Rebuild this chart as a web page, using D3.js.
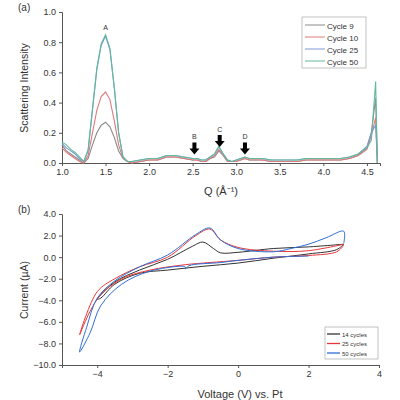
<!DOCTYPE html>
<html><head><meta charset="utf-8">
<script src="https://cdn.jsdelivr.net/npm/d3@7"></script>
<style>body{margin:0;background:#fff}text{font-family:"Liberation Sans",Arial,sans-serif;fill:#333}</style>
</head><body><svg id="c" width="400" height="400"></svg>
<script>
// SAXS data (panel a)
const qVals = [1.0,1.05,1.1,1.15,1.2,1.25,1.3,1.35,1.4,1.45,1.5,1.55,1.6,1.65,1.7,1.75,1.8,1.9,2.0,2.1,2.2,2.3,2.4,2.5,2.55,2.6,2.65,2.7,2.75,2.8,2.85,2.9,2.95,3.0,3.05,3.1,3.15,3.2,3.3,3.4,3.5,3.6,3.7,3.8,3.9,4.0,4.1,4.2,4.3,4.4,4.5,4.55,4.6,4.62];
const cycle9 = [0.12,0.08,0.06,0.04,0.02,0.0,0.03,0.12,0.2,0.25,0.27,0.24,0.17,0.08,0.03,0.01,0.0,0.01,0.02,0.02,0.04,0.04,0.03,0.02,0.02,0.01,0.01,0.03,0.04,0.08,0.05,0.01,0.01,0.01,0.02,0.03,0.02,0.02,0.02,0.01,0.01,0.01,0.01,0.02,0.02,0.02,0.02,0.02,0.03,0.05,0.1,0.2,0.43,0.0];
const cycle10 = [0.1,0.07,0.05,0.03,0.01,0.0,0.05,0.2,0.35,0.44,0.47,0.42,0.28,0.12,0.03,0.01,0.0,0.01,0.02,0.02,0.04,0.04,0.03,0.02,0.02,0.01,0.01,0.03,0.05,0.09,0.05,0.01,0.01,0.01,0.02,0.03,0.02,0.02,0.02,0.01,0.01,0.01,0.01,0.02,0.02,0.02,0.02,0.02,0.03,0.05,0.09,0.18,0.3,0.0];
const cycle25 = [0.13,0.1,0.08,0.06,0.03,0.01,0.08,0.35,0.62,0.78,0.84,0.75,0.5,0.2,0.04,0.01,0.01,0.02,0.03,0.03,0.05,0.05,0.04,0.03,0.03,0.02,0.02,0.04,0.06,0.11,0.06,0.02,0.01,0.02,0.03,0.04,0.03,0.03,0.03,0.02,0.02,0.02,0.02,0.03,0.03,0.03,0.03,0.03,0.04,0.06,0.11,0.2,0.25,0.0];
const cycle50 = [0.14,0.12,0.09,0.07,0.04,0.01,0.09,0.36,0.63,0.79,0.85,0.76,0.5,0.2,0.04,0.01,0.01,0.02,0.03,0.03,0.05,0.05,0.04,0.03,0.03,0.02,0.02,0.04,0.06,0.11,0.06,0.02,0.01,0.02,0.03,0.04,0.03,0.03,0.03,0.02,0.02,0.02,0.02,0.03,0.03,0.03,0.03,0.03,0.04,0.06,0.1,0.15,0.54,0.0];
const saxsNames = ['Cycle 9','Cycle 10','Cycle 25','Cycle 50'];
const saxsColors = ['#8a8a8a','#e07a7a','#7a9ad6','#62b99c'];
const peaks = [{l:'A',q:1.5,y:0.86,arrow:false},{l:'B',q:2.52,y:0.05,arrow:true},{l:'C',q:2.81,y:0.1,arrow:true},{l:'D',q:3.1,y:0.05,arrow:true}];

// CV data (panel b), [V, I]
const cv14 = [[3,1.2],[2,0.95],[1,0.8],[0,0.45],[-0.5,0.4],[-0.7,0.8],[-1.0,1.4],[-1.3,1.0],[-2,-0.2],[-2.8,-1.2],[-3.5,-2.3],[-4,-3.9],[-3.9,-3.8],[-3.5,-2.5],[-2.8,-1.5],[-2,-1.2],[-1,-0.85],[0,-0.55],[1,-0.1],[2,0.3],[2.8,0.7],[3,1.2]];
const cv25 = [[3,1.2],[2,0.6],[1,0.55],[0,0.9],[-0.5,1.6],[-0.8,2.6],[-1.2,2.0],[-2,0.0],[-2.8,-0.9],[-3.5,-2.0],[-4,-3.2],[-4.5,-7.2],[-4.2,-5.0],[-3.9,-3.5],[-3.3,-2.0],[-2.5,-1.2],[-1.5,-0.7],[-0.8,-0.5],[0,-0.3],[1,0.0],[2,0.15],[2.8,0.5],[3,1.1]];
const cv50 = [[3,1.3],[3,2.4],[2.5,1.8],[2,1.2],[1.5,0.8],[1,0.5],[0,0.8],[-0.5,1.6],[-0.8,2.7],[-1.2,2.1],[-2,0.2],[-2.8,-0.9],[-3.5,-2.2],[-4,-3.8],[-4.3,-6.5],[-4.5,-8.8],[-4.2,-7.0],[-3.9,-4.5],[-3.3,-2.5],[-2.5,-1.3],[-1.5,-0.9],[-1.5,-1.1],[-1.4,-0.8],[-0.5,-0.5],[0,-0.3],[1,0.0],[2,0.1]];
const cvNames = ['14 cycles','25 cycles','50 cycles'];
const cvColors = ['#333333','#e8383a','#2f6fd6'];

const svg = d3.select('#c');
const fmt1 = d => d.toFixed(1).replace('-', '\u2212');

// ---- panel a ----
const xa = d3.scaleLinear().domain([1.0, 4.65]).range([62, 380]);
const ya = d3.scaleLinear().domain([0, 1.0]).range([163, 12]);
const ga = svg.append('g');
ga.append('g').attr('transform', 'translate(0,163)')
  .call(d3.axisBottom(xa).tickValues(d3.range(1.0, 4.51, 0.5)).tickFormat(fmt1).tickSize(3));
ga.append('g').attr('transform', 'translate(62,0)')
  .call(d3.axisLeft(ya).ticks(5).tickFormat(fmt1).tickSize(3));
const lineA = d3.line().x((d, i) => xa(qVals[i])).y(d => ya(d));
[cycle9, cycle10, cycle25, cycle50].forEach((s, k) => {
  ga.append('path').attr('d', lineA(s)).attr('fill', 'none').attr('stroke', saxsColors[k]).attr('stroke-width', 1.1);
});
peaks.forEach(p => {
  const x = xa(p.q), y = ya(p.y);
  if (p.arrow) {
    ga.append('path').attr('d', `M${x-2},${y-13}h4v6h3l-5,6l-5,-6h3z`).attr('fill', '#000');
    ga.append('text').attr('x', x).attr('y', y - 16).attr('text-anchor', 'middle').attr('font-size', 7).text(p.l);
  } else {
    ga.append('text').attr('x', x).attr('y', y - 3).attr('text-anchor', 'middle').attr('font-size', 7).text(p.l);
  }
});
const la = ga.append('g');
la.append('rect').attr('x', 302).attr('y', 17).attr('width', 64).attr('height', 51).attr('fill', '#fff').attr('stroke', '#aaa').attr('stroke-width', 0.7);
saxsNames.forEach((n, i) => {
  const y = 25 + i * 12;
  la.append('line').attr('x1', 305).attr('x2', 325).attr('y1', y).attr('y2', y).attr('stroke', saxsColors[i]).attr('stroke-width', 1);
  la.append('text').attr('x', 327).attr('y', y + 3.5).attr('font-size', 8).text(n);
});
svg.append('text').attr('x', 18).attr('y', 11).attr('font-size', 10).text('(a)');
svg.append('text').attr('x', 221).attr('y', 195).attr('text-anchor', 'middle').attr('font-size', 11).text('Q (Å\u207B\u00B9)');
svg.append('text').attr('transform', 'translate(28,88) rotate(-90)').attr('text-anchor', 'middle').attr('font-size', 10.5).text('Scattering Intensity');

// ---- panel b ----
const xb = d3.scaleLinear().domain([-5, 4]).range([62, 379]);
const yb = d3.scaleLinear().domain([-10, 4]).range([365, 214]);
const gb = svg.append('g');
gb.append('g').attr('transform', 'translate(0,365)')
  .call(d3.axisBottom(xb).tickValues([-4, -2, 0, 2, 4]).tickFormat(d => String(d).replace('-', '\u2212')).tickSize(3));
gb.append('g').attr('transform', 'translate(62,0)')
  .call(d3.axisLeft(yb).tickValues(d3.range(-10, 4.1, 2)).tickFormat(fmt1).tickSize(3));
const lineB = d3.line().x(d => xb(d[0])).y(d => yb(d[1])).curve(d3.curveCatmullRom);
[cv14, cv25, cv50].forEach((s, k) => {
  gb.append('path').attr('d', lineB(s)).attr('fill', 'none').attr('stroke', cvColors[k]).attr('stroke-width', 1);
});
const lb = gb.append('g');
lb.append('rect').attr('x', 325).attr('y', 327).attr('width', 53).attr('height', 32).attr('fill', '#fff').attr('stroke', '#999').attr('stroke-width', 0.6);
cvNames.forEach((n, i) => {
  const y = 334 + i * 9.5;
  lb.append('line').attr('x1', 327).attr('x2', 340).attr('y1', y).attr('y2', y).attr('stroke', cvColors[i]).attr('stroke-width', 1.3);
  lb.append('text').attr('x', 342).attr('y', y + 2.5).attr('font-size', 6).text(n);
});
svg.append('text').attr('x', 18).attr('y', 213).attr('font-size', 10).text('(b)');
svg.append('text').attr('x', 240).attr('y', 398).attr('text-anchor', 'middle').attr('font-size', 11).text('Voltage (V) vs. Pt');
svg.append('text').attr('transform', 'translate(28,290) rotate(-90)').attr('text-anchor', 'middle').attr('font-size', 10.5).text('Current (µA)');
svg.selectAll('.tick text').attr('font-size', 9).attr('fill', '#333');
svg.selectAll('.domain, .tick line').attr('stroke', '#555');
</script></body></html>
